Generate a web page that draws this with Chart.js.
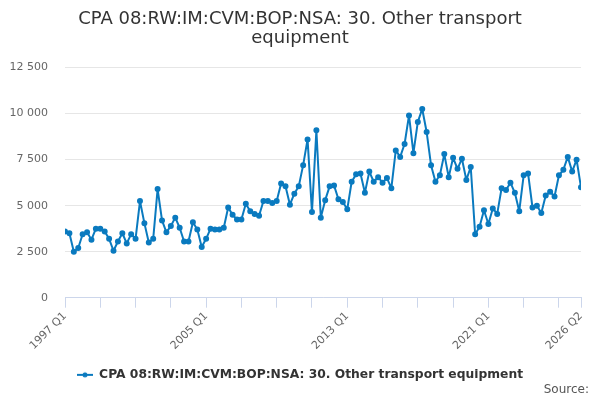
<!DOCTYPE html>
<html>
<head>
<meta charset="utf-8">
<script src="https://cdn.jsdelivr.net/npm/chart.js@4/dist/chart.umd.min.js"></script>
<style>
  html, body { margin: 0; padding: 0; background: #fff; }
  #wrap { width: 600px; height: 400px; }
</style>
</head>
<body>
<div id="wrap"><canvas id="chart"></canvas></div>
<script>
// Quarterly series, 1997 Q1 .. 2026 Q2
const years = [1997, 1998, 1999, 2000, 2001, 2002, 2003, 2004, 2005, 2006,
  2007, 2008, 2009, 2010, 2011, 2012, 2013, 2014, 2015, 2016, 2017, 2018,
  2019, 2020, 2021, 2022, 2023, 2024, 2025, 2026];
const quarters = ['Q1', 'Q2', 'Q3', 'Q4'];
const values = [
  3600, 3500, 2500, 2700,   // 1997
  3450, 3550, 3150, 3750,   // 1998
  3750, 3600, 3200, 2550,   // 1999
  3050, 3500, 2950, 3450,   // 2000
  3200, 5250, 4050, 3000,   // 2001
  3200, 5900, 4200, 3550,   // 2002
  3900, 4350, 3800, 3050,   // 2003
  3050, 4100, 3700, 2750,   // 2004
  3200, 3750, 3700, 3700,   // 2005
  3800, 4900, 4500, 4250,   // 2006
  4250, 5100, 4700, 4550,   // 2007
  4450, 5250, 5250, 5150,   // 2008
  5250, 6200, 6050, 5050,   // 2009
  5650, 6050, 7200, 8600,   // 2010
  4650, 9100, 4350, 5300,   // 2011
  6050, 6100, 5350, 5200,   // 2012
  4800, 6300, 6700, 6750,   // 2013
  5700, 6850, 6300, 6550,   // 2014
  6250, 6500, 5950, 8000,   // 2015
  7650, 8350, 9900, 7850,   // 2016
  9550, 10250, 9000, 7200,  // 2017
  6300, 6650, 7800, 6550,   // 2018
  7600, 7000, 7550, 6400,   // 2019
  7100, 3450, 3850, 4750,   // 2020
  4000, 4850, 4550, 5950,   // 2021
  5850, 6250, 5700, 4700,   // 2022
  6650, 6750, 4900, 5000,   // 2023
  4600, 5550, 5750, 5500,   // 2024
  6650, 6950, 7650, 6850,   // 2025
  7500, 6000                // 2026
];
const shownLabels = ['1997 Q1', '2005 Q1', '2013 Q1', '2021 Q1', '2026 Q2'];
const yTicks = [0, 2500, 5000, 7500, 10000, 12500];

const seriesName = 'CPA 08:RW:IM:CVM:BOP:NSA: 30. Other transport equipment';
const lineColor = '#0a7abf';

// build quarter labels
const labels = [];
years.forEach(y => quarters.forEach(q => labels.push(y + ' ' + q)));
labels.length = values.length;

const points = values.map((v, i) => ({ x: i, y: v }));

// legend symbol: line with a dot
const legendIcon = document.createElement('canvas');
legendIcon.width = 16; legendIcon.height = 8;
(function () {
  const c = legendIcon.getContext('2d');
  c.strokeStyle = lineColor; c.lineWidth = 2;
  c.beginPath(); c.moveTo(0, 4); c.lineTo(16, 4); c.stroke();
  c.fillStyle = lineColor;
  c.beginPath(); c.arc(8, 4, 2.5, 0, Math.PI * 2); c.fill();
})();

const fmt = v => String(v).replace(/\B(?=(\d{3})+(?!\d))/g, ' ');

const sourcePlugin = {
  id: 'sourceText',
  afterDraw(chart) {
    const ctx = chart.ctx;
    ctx.save();
    ctx.font = '12px "DejaVu Sans"';
    ctx.fillStyle = '#555';
    ctx.textAlign = 'right';
    ctx.textBaseline = 'middle';
    ctx.fillText('Source:', 589, 390);
    ctx.restore();
  }
};

new Chart(document.getElementById('chart'), {
  type: 'line',
  data: {
    datasets: [{
      label: seriesName,
      data: points,
      borderColor: lineColor,
      backgroundColor: lineColor,
      borderWidth: 2,
      borderJoinStyle: 'round',
      pointRadius: 2,
      pointHoverRadius: 3,
      pointStyle: 'circle',
      tension: 0
    }]
  },
  options: {
    responsive: true,
    maintainAspectRatio: false,
    animation: false,
    devicePixelRatio: 1,
    layout: { padding: { left: 0, right: 0, top: 0, bottom: 9 } },
    scales: {
      x: {
        type: 'linear',
        min: 0,
        max: values.length - 1,
        afterBuildTicks(scale) {
          const t = [];
          for (let i = 0; i < values.length; i += 8) t.push({ value: i });
          t.push({ value: values.length - 1 });
          scale.ticks = t;
        },
        afterFit(scale) { scale.height = 61; },
        ticks: {
          autoSkip: false,
          minRotation: 45,
          maxRotation: 45,
          padding: 2,
          color: '#666',
          font: { family: 'DejaVu Sans', size: 11 },
          callback(v) {
            const l = labels[v];
            return shownLabels.includes(l) ? l : '';
          }
        },
        grid: {
          drawOnChartArea: false,
          drawTicks: true,
          tickLength: 10,
          color: '#ccd6eb'
        },
        border: { color: '#ccd6eb', width: 1 }
      },
      y: {
        min: 0,
        max: 12500,
        afterBuildTicks(scale) {
          scale.ticks = yTicks.map(v => ({ value: v }));
        },
        afterFit(scale) { scale.width = 65; },
        ticks: {
          padding: 17,
          color: '#666',
          font: { family: 'DejaVu Sans', size: 11 },
          callback: v => fmt(v)
        },
        grid: { color: '#e6e6e6', drawTicks: false },
        border: { display: false }
      },
      // empty right-hand spacer so the plot ends where the reference does
      spacer: {
        type: 'linear',
        position: 'right',
        afterFit(scale) { scale.width = 19; },
        ticks: { display: false },
        grid: { display: false },
        border: { display: false }
      }
    },
    plugins: {
      title: {
        display: true,
        text: ['CPA 08:RW:IM:CVM:BOP:NSA: 30. Other transport', 'equipment'],
        color: '#333',
        font: { family: 'DejaVu Sans', size: 18, weight: 'normal', lineHeight: 1.1 },
        padding: { top: 9, bottom: 19 }
      },
      legend: {
        position: 'bottom',
        labels: {
          usePointStyle: true,
          pointStyle: legendIcon,
          pointStyleWidth: 16,
          color: '#333',
          padding: 10,
          font: { family: 'DejaVu Sans', size: 12.3, weight: 'bold' }
        }
      },
      tooltip: { enabled: false }
    }
  },
  plugins: [sourcePlugin]
});
</script>
</body>
</html>
